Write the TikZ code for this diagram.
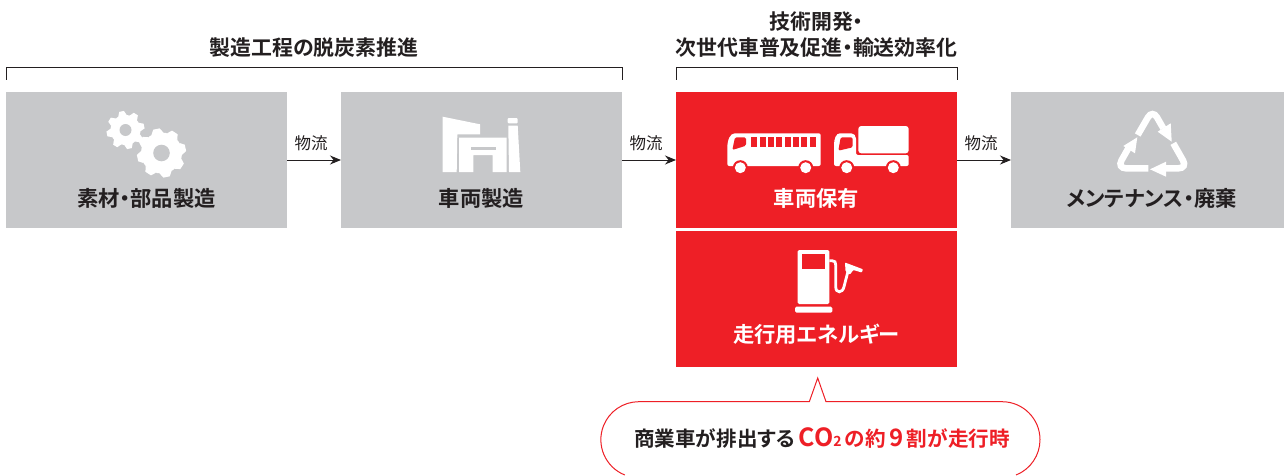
\documentclass[tikz,border=0pt]{standalone}
\usepackage{fontspec}
\usetikzlibrary{positioning,arrows.meta}
\setmainfont{Noto Sans CJK JP}[RawFeature=+palt,BoldFont={Noto Sans CJK JP Bold}]
\definecolor{boxgray}{HTML}{C7C8CA}
\definecolor{boxred}{HTML}{EE1F26}
\definecolor{inkdark}{HTML}{231F20}

\begin{document}
\begin{tikzpicture}[x=1pt,y=1pt,every node/.style = {inner sep=0pt, outer sep=0pt, text=inkdark, align=center}]
          \tikzstyle{procbox}=[minimum width=281pt,minimum height=136pt,fill=boxgray]
          \tikzstyle{redbox}=[procbox,fill=boxred]
          \tikzstyle{boxlabel}=[font=\fontsize{21.3}{24}\selectfont\bfseries]
          \tikzstyle{headlabel}=[font=\fontsize{20.9}{26}\selectfont\bfseries]
          \tikzstyle{flowlabel}=[font=\fontsize{16.5}{18}\selectfont,above=9pt,xshift=-3pt]
          \tikzstyle{flow}=[draw=inkdark,line width=1pt,-{Stealth[length=11pt,width=9pt]}]
          \tikzstyle{bracket}=[draw=inkdark,line width=0.8pt]
        \useasboundingbox (0,0) rectangle (1284,475);
        \node[procbox] (parts) at (146.5,315) {};
        \node[procbox,right=54pt of parts] (plant) {};
        \node[redbox,right=54pt of plant] (owned) {};
        \node[redbox,below=3pt of owned] (energy) {};
        \node[procbox,minimum width=273pt,right=54pt of owned] (disposal) {};
        % texts in the boxes
        \node[boxlabel] (partstext) at ([yshift=-38pt]parts) {素材・部品製造};
        \node[boxlabel] (planttext) at ([yshift=-38pt]plant) {車両製造};
        \node[boxlabel,text=white] (ownedtext) at ([yshift=-38pt]owned) {車両保有};
        \node[boxlabel,text=white] (energytext) at ([yshift=-35pt]energy) {走行用エネルギー};
        \node[boxlabel] (disposaltext) at ([xshift=4pt,yshift=-38pt]disposal) {メンテナンス・廃棄};
        % flows
        \draw[flow] (parts) -- (plant) node[flowlabel,midway] (flowa) {物流};
        \draw[flow] (plant) -- (owned) node[flowlabel,midway] (flowb) {物流};
        \draw[flow] (owned) -- (disposal) node[flowlabel,midway] (flowc) {物流};
        % brackets
        \coordinate (bra) at (6,395);
        \coordinate (brb) at (622,395);
        \coordinate (brc) at (676,395);
        \coordinate (brd) at (957,395);
        \draw[bracket] (bra) -- ++(0,13) -| (brb);
        \draw[bracket] (brc) -- ++(0,13) -| (brd);
        \node[headlabel] (headleft) at (314,427) {製造工程の脱炭素推進};
        \node[headlabel] (headright) at (816.5,440) {技術開発・\\次世代車普及促進・輸送効率化};
        % gears
        \foreach \gx/\gy/\gr/\gh in {125.5/345/15/6, 161.5/322/20.5/8.3} {
          \fill[white] (\gx,\gy) circle (\gr);
          \foreach \ang in {0,45,...,315}
            \fill[white,shift={(\gx,\gy)},rotate=\ang+12] (\gr-1,-0.3*\gr) -- (\gr+4,-0.16*\gr) -- (\gr+4,0.16*\gr) -- (\gr-1,0.3*\gr) -- cycle;
          \fill[boxgray] (\gx,\gy) circle (\gh);
        }
        % plant
        \fill[white] (442.7,358.3) -- (480,350.7) -- (480,340.7) -- (457.3,340.7) -- (456.7,303) -- (442.7,303) -- cycle;
        \fill[white] (459,337.3) -- (506.7,337.3) -- (506.7,303) -- (492.7,303) -- (492.7,320) -- (473.3,320) -- (473.3,303) -- (459,303) -- cycle;
        \fill[boxgray] (470.7,324.7) rectangle (496,328.3);
        \fill[white,rounded corners=1pt] (507.7,351.7) rectangle (517.7,357);
        \fill[white] (508.3,349.3) -- (517.7,349.3) -- (520.3,303) -- (509,303) -- cycle;
        % bus
        \fill[white,rounded corners=2pt] (727.3,309) -- (727.3,325) .. controls (727.3,335) and (730,341.7) .. (737,341.7) -- (820.7,341.7) -- (820.7,309) -- cycle;
        \fill[boxred,rounded corners=1.5pt] (732.3,325) -- (735,337.7) -- (746,337.7) -- (746,329.3) -- cycle;
        \foreach \win in {0,...,7}
          \fill[boxred] (751.3+8.33*\win,328.3) rectangle ++(6,10);
        % truck
        \fill[white,rounded corners=2pt] (834,309) -- (834,328.3) .. controls (834,336) and (836,341.7) .. (842,341.7) -- (853.3,341.7) -- (856,338.3) -- (856,320) -- (908.7,320) -- (908.7,309) -- cycle;
        \fill[white,rounded corners=3pt] (858.3,321.7) -- (858.3,349) -- (908.7,349) -- (908.7,321.7) -- cycle;
        \fill[boxred,rounded corners=1.5pt] (838.3,324.3) -- (840.7,337.7) -- (852.7,337.7) -- (852.7,327.7) -- cycle;
        \foreach \wx in {740.3,805.7,846.7,893.3} {
          \fill[boxred] (\wx,307.3) circle (7.5);
          \fill[white] (\wx,307.3) circle (5.5);
        }
        % pump
        \fill[white,rounded corners=1.5pt] (797.7,171) rectangle (829.3,225);
        \fill[boxred] (802.3,206) rectangle (825,220.7);
        \fill[white,rounded corners=1.5pt] (795,162.3) rectangle (832.3,168.3);
        \draw[white,line width=2.8pt] (829.3,214.3) -- (832,214.3) .. controls (835,214.3) and (835.7,213) .. (835.7,210) -- (835.7,188.3) .. controls (835.7,181.5) and (842.5,181.5) .. (844,188.3) -- (848.3,205);
        \fill[white,rounded corners=0.7pt] (845,212.5) -- (863,205.7) -- (861.7,202.5) -- (853.3,205) -- (850,200.5) -- (845.5,204) -- cycle;
        % recycle mark
        \tikzstyle{recycle}=[draw=white,line width=6.5pt,rounded corners=9pt]
        \draw[recycle] (1137.7,340) -- (1152.5,365.5) -- (1163.3,346.7);
        \fill[white] (1171.7,333.3) -- (1157.7,343.3) -- (1170.7,351.7) -- cycle;
        \draw[recycle] (1173.3,331.7) -- (1187.5,306.7) -- (1163.3,306.7);
        \fill[white] (1150,305.7) -- (1166,313.3) -- (1166,298.3) -- cycle;
        \draw[recycle] (1148.3,306.7) -- (1117,306.7) -- (1128.3,326.7);
        \fill[white] (1137.3,337.7) -- (1123.3,329) -- (1135,321.7) -- cycle;
        % callout
        \draw[boxred,line width=1pt,fill=white] (624.8,0) arc[start angle=248.3,end angle=90,radius=38] -- (809.3,73.3) -- (817.7,97) -- (826,73.3) -- (1002,73.3) arc[start angle=90,end angle=-68.3,radius=38];
        \node[headlabel,font=\fontsize{20.6}{26}\selectfont\bfseries] (callouttext) at (822,37) {商業車が排出する\,\textcolor{boxred}{{\fontsize{25}{26}\selectfont CO}\raisebox{-0.5pt}{\fontsize{14}{14}\selectfont 2}\,の約\,{\fontsize{24}{26}\selectfont 9}\,割が走行時}};
      \end{tikzpicture}
\end{document}
